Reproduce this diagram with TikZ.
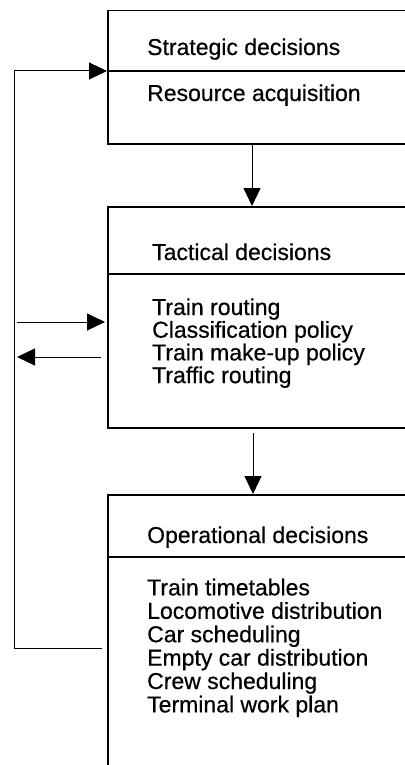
\documentclass[tikz,border=0pt]{standalone}
\usepackage{fontspec}
\setmainfont{Liberation Sans}[BoldFont={Liberation Sans}, BoldFeatures={FakeBold=0.5}]
\usetikzlibrary{arrows.meta}
\pgfdeclarelayer{edgelayer}
\pgfdeclarelayer{nodelayer}
\pgfsetlayers{edgelayer,nodelayer,main}
\tikzstyle{level}=[draw=black, line width=1.5pt, anchor=north west, minimum width=330pt, inner sep=0pt]
\tikzstyle{divider}=[draw=black, line width=1.5pt]
\tikzstyle{entry}=[anchor=base west, inner sep=0pt, font=\fontsize{23}{27}\selectfont\bfseries]
\tikzstyle{flow}=[draw=black, line width=1pt, -{Triangle[length=18pt, width=17pt]}]

\begin{document}
\begin{tikzpicture}[x=1pt, y=-1pt]
\useasboundingbox (0,0) rectangle (404,765);
				\begin{pgfonlayer}{nodelayer}
					\node [style=level, minimum height=133pt] (strat) at (107, 10) {};
					\node [style=level, minimum height=221pt] (tact) at (107, 206) {};
					\node [style=level, minimum height=300pt] (oper) at (107, 494) {};
					\node [style=entry] (strathead) at (147, 55) {Strategic decisions};
					\node [style=entry] (strat1) at (147, 101) {Resource acquisition};
					\node [style=entry] (tacthead) at (152, 260) {Tactical decisions};
					\foreach \task [count=\i] in {Train routing, Classification policy, Train make-up policy, Traffic routing}
						\node [style=entry] (tact\i) at (152, 292.3+22.7*\i) {\task};
					\node [style=entry] (operhead) at (147, 543) {Operational decisions};
					\foreach \task [count=\i] in {Train timetables, Locomotive distribution, Car scheduling, Empty car distribution, Crew scheduling, Terminal work plan}
						\node [style=entry] (oper\i) at (147, 572+23.4*\i) {\task};
				\end{pgfonlayer}
				\begin{pgfonlayer}{edgelayer}
					\coordinate (sdiv) at (107, 71);
					\coordinate (tdiv) at (107, 274);
					\coordinate (odiv) at (107, 557);
					\draw [style=divider] (sdiv) to (sdiv -| strat.east);
					\draw [style=divider] (tdiv) to (tdiv -| tact.east);
					\draw [style=divider] (odiv) to (odiv -| oper.east);
					\coordinate (s2t) at (252, 145);
					\coordinate (t2o) at (253, 433);
					\draw [style=flow] (s2t) to (s2t |- tact.north);
					\draw [style=flow] (t2o) to (t2o |- oper.north);
					\coordinate (inL) at (17, 322);
					\coordinate (outR) at (101, 357);
					\coordinate (outL) at (17, 357);
					\draw [style=flow, shorten >=2pt] (inL) to (inL -| tact.west);
					\draw [style=flow] (outR) to (outL);
					\coordinate (fbstart) at (102, 648);
					\coordinate (fbbottom) at (14, 648);
					\coordinate (fbtop) at (14, 71);
					\draw [style=flow] (fbstart) -- (fbbottom) -- (fbtop) -- (sdiv);
				\end{pgfonlayer}
\end{tikzpicture}
\end{document}
